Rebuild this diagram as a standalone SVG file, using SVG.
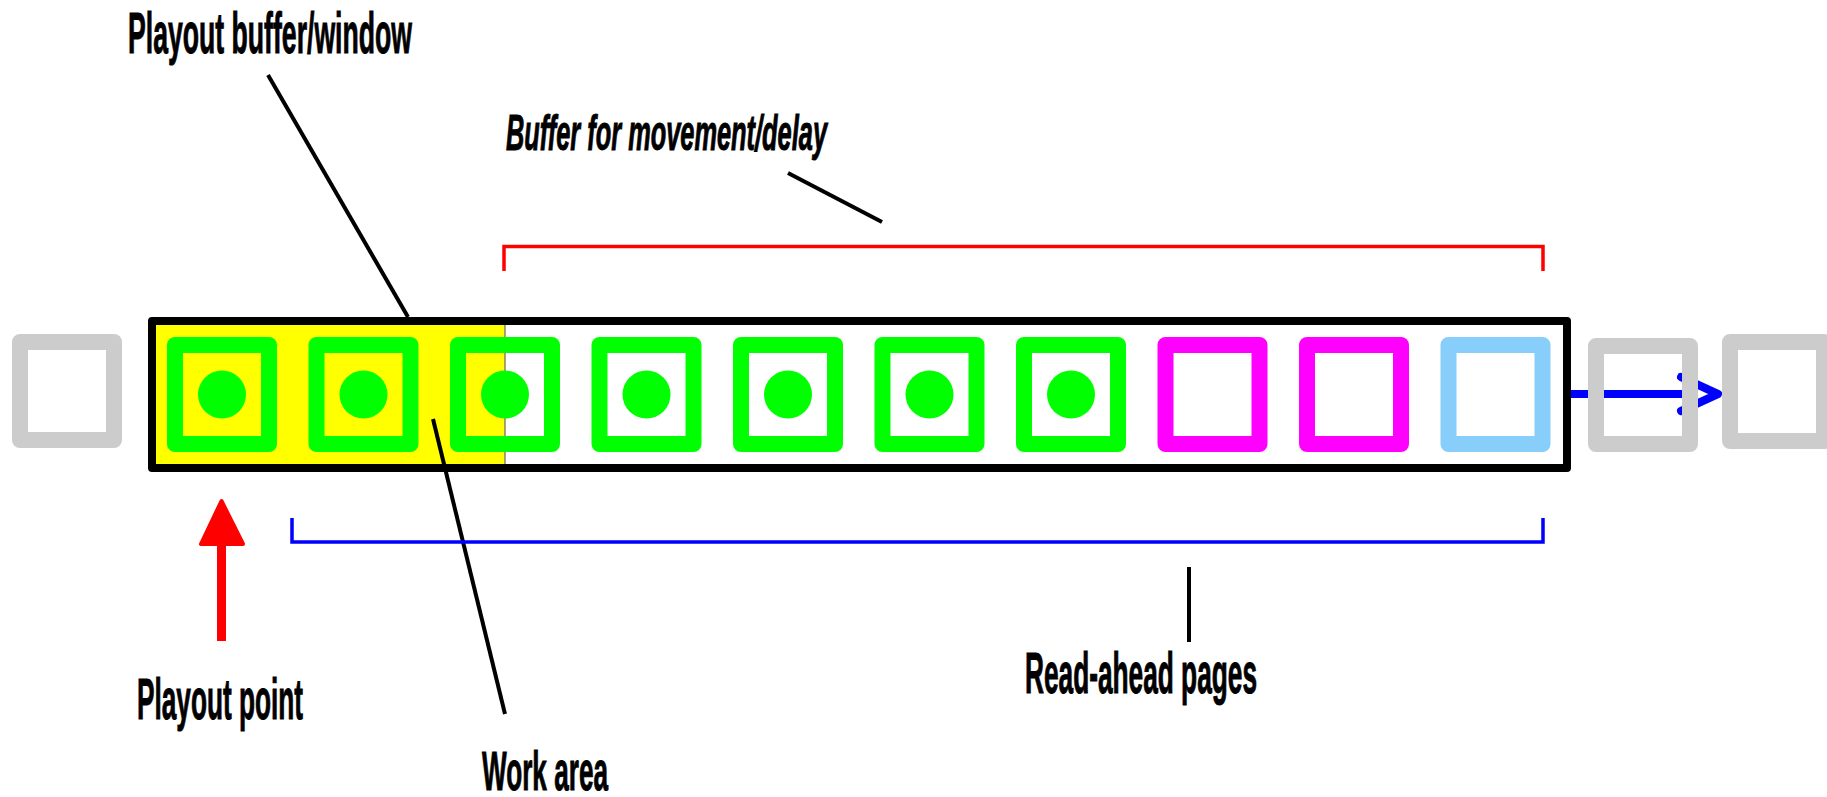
<svg xmlns="http://www.w3.org/2000/svg" width="1827" height="797" viewBox="0 0 1827 797">
  <style>
    .lbl { font-family: "Liberation Sans", Arial, sans-serif; font-weight: bold; fill: #000; stroke: #000; stroke-width: 1; }
    .sq { fill: none; stroke-width: 16; stroke-linejoin: round; }
    .green { stroke: #00ff00; }
    .mag { stroke: #ff00ff; }
    .lblue { stroke: #87cefa; }
    .gray { stroke: #cccccc; }
    .dot { fill: #00ff00; }
    .lead { stroke: #000; stroke-width: 4; fill: none; }
  </style>

  <g id="playout-buffer">
    <rect x="155" y="325" width="350" height="139" fill="#ffff00"/>
    <line x1="505" y1="325" x2="505" y2="464" stroke="#666" stroke-width="1.2"/>
  </g>

  <g id="connectors">
    <line class="lead" x1="268" y1="75" x2="408" y2="317"/>
    <line class="lead" x1="788" y1="173" x2="882" y2="222"/>
    <line class="lead" x1="1189" y1="567" x2="1189" y2="642"/>
    <line class="lead" x1="433" y1="419" x2="505" y2="714"/>
    <path d="M504,271 V246.5 H1543 V271" fill="none" stroke="#ff0000" stroke-width="3.5"/>
    <path d="M292,518 V542 H1543 V518" fill="none" stroke="#0000ff" stroke-width="3.5"/>
    <line x1="1571" y1="394" x2="1684" y2="394" stroke="#0000ff" stroke-width="8"/>
    <polyline points="1681,377 1718,394 1681,411" fill="none" stroke="#0000ff" stroke-width="8" stroke-linejoin="round" stroke-linecap="round"/>
    <g id="playout-arrow">
      <rect x="217" y="540" width="9" height="101" fill="#ff0000"/>
      <polygon points="221.5,501 201,544 243,544" fill="#ff0000" stroke="#ff0000" stroke-width="4" stroke-linejoin="round"/>
    </g>
  </g>

  <g id="page-prev"><rect class="sq gray" x="20" y="342" width="94" height="98"/></g>
  <g id="page-1"><rect class="sq green" x="175" y="345" width="94" height="99"/><circle class="dot" cx="222" cy="394.5" r="24"/></g>
  <g id="page-2"><rect class="sq green" x="316.5" y="345" width="94" height="99"/><circle class="dot" cx="363.5" cy="394.5" r="24"/></g>
  <g id="page-3"><rect class="sq green" x="458" y="345" width="94" height="99"/><circle class="dot" cx="505" cy="394.5" r="24"/></g>
  <g id="page-4"><rect class="sq green" x="599.5" y="345" width="94" height="99"/><circle class="dot" cx="646.5" cy="394.5" r="24"/></g>
  <g id="page-5"><rect class="sq green" x="741" y="345" width="94" height="99"/><circle class="dot" cx="788" cy="394.5" r="24"/></g>
  <g id="page-6"><rect class="sq green" x="882.5" y="345" width="94" height="99"/><circle class="dot" cx="929.5" cy="394.5" r="24"/></g>
  <g id="page-7"><rect class="sq green" x="1024" y="345" width="94" height="99"/><circle class="dot" cx="1071" cy="394.5" r="24"/></g>
  <g id="page-8"><rect class="sq mag" x="1165.5" y="345" width="94" height="99"/></g>
  <g id="page-9"><rect class="sq mag" x="1307" y="345" width="94" height="99"/></g>
  <g id="page-10"><rect class="sq lblue" x="1448.5" y="345" width="94" height="99"/></g>
  <g id="page-next-1"><rect class="sq gray" x="1596" y="346" width="94" height="98"/></g>
  <g id="page-next-2"><rect class="sq gray" x="1730" y="342" width="94" height="99"/></g>

  <g id="frame">
    <rect x="152" y="321" width="1415" height="147" fill="none" stroke="#000" stroke-width="8" stroke-linejoin="round"/>
  </g>

  <g id="label-playout-buffer">
    <text class="lbl" x="128" y="53" font-size="58" textLength="284" lengthAdjust="spacingAndGlyphs">Playout buffer/window</text>
  </g>
  <g id="label-buffer-movement">
    <text class="lbl" x="506" y="150" font-size="50" font-style="italic" textLength="321" lengthAdjust="spacingAndGlyphs">Buffer for movement/delay</text>
  </g>
  <g id="label-read-ahead">
    <text class="lbl" x="1025" y="693" font-size="57" textLength="232" lengthAdjust="spacingAndGlyphs">Read-ahead pages</text>
  </g>
  <g id="label-playout-point">
    <text class="lbl" x="137" y="719" font-size="57" textLength="166" lengthAdjust="spacingAndGlyphs">Playout point</text>
  </g>
  <g id="label-work-area">
    <text class="lbl" x="482" y="790" font-size="56" textLength="126" lengthAdjust="spacingAndGlyphs">Work area</text>
  </g>
</svg>
